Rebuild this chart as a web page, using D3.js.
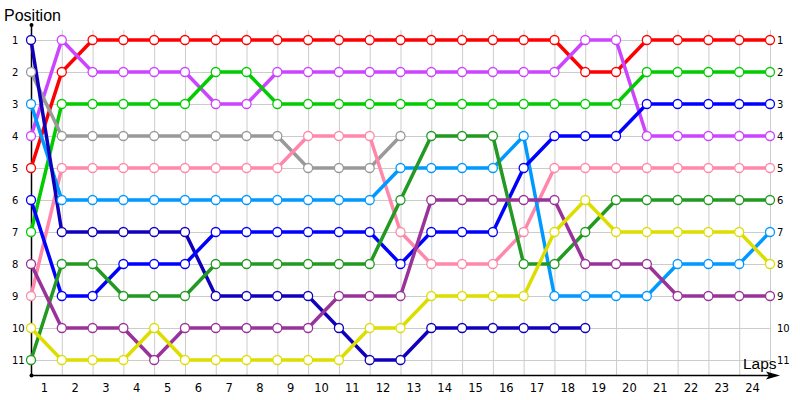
<!DOCTYPE html>
<html><head><meta charset="utf-8">
<script src="https://cdn.jsdelivr.net/npm/d3@7"></script>
<style>body{margin:0;background:#fff}svg{display:block}</style>
</head><body><svg id="c" width="800" height="400"></svg>
<script>
const laps = d3.range(0, 25);
const lapLabels = d3.range(1, 25).map(String);
const positions = d3.range(1, 12);
const seriesNames = ["red","violet","green","gray","pink","lightblue","navy","blue","darkgreen","purple","yellow"];
const seriesColors = ["#ff0000","#cc44ff","#00cc00","#999999","#ff88aa","#0099ff","#1100bb","#0000ff","#229922","#993399","#dddd00"];
const red       = [5,2,1,1,1,1,1,1,1,1,1,1,1,1,1,1,1,1,2,2,1,1,1,1,1];
const violet    = [4,1,2,2,2,2,3,3,2,2,2,2,2,2,2,2,2,2,1,1,4,4,4,4,4];
const green     = [7,3,3,3,3,3,2,2,3,3,3,3,3,3,3,3,3,3,3,3,2,2,2,2,2];
const gray      = [2,4,4,4,4,4,4,4,4,5,5,5,4];
const pink      = [9,5,5,5,5,5,5,5,5,4,4,4,7,8,8,8,7,5,5,5,5,5,5,5,5];
const lightblue = [3,6,6,6,6,6,6,6,6,6,6,6,5,5,5,5,4,9,9,9,9,8,8,8,7];
const navy      = [1,7,7,7,7,7,9,9,9,9,10,11,11,10,10,10,10,10,10];
const blue      = [6,9,9,8,8,8,7,7,7,7,7,7,8,7,7,7,5,4,4,4,3,3,3,3,3];
const darkgreen = [11,8,8,9,9,9,8,8,8,8,8,8,6,4,4,4,8,8,7,6,6,6,6,6,6];
const purple    = [8,10,10,10,11,10,10,10,10,10,9,9,9,6,6,6,6,6,8,8,8,9,9,9,9];
const yellow    = [10,11,11,11,10,11,11,11,11,11,11,10,10,9,9,9,9,7,6,7,7,7,7,7,8];
const seriesValues = [red,violet,green,gray,pink,lightblue,navy,blue,darkgreen,purple,yellow];

const svg = d3.select("#c");
const x = d3.scaleLinear().domain([0, 24]).range([31, 770]);
const y = d3.scaleLinear().domain([1, 11]).range([40, 360]);
const xb = d3.scaleBand().domain(lapLabels).range([31, 770]);

// grid
const g = svg.append("g");
g.selectAll("line.v").data(laps).join("line")
  .attr("x1", d => x(d)+0.5).attr("x2", d => x(d)+0.5)
  .attr("y1", 30).attr("y2", 375)
  .attr("stroke", "#cccccc").attr("stroke-width", 1);
g.selectAll("line.h").data(positions).join("line")
  .attr("x1", x(0)).attr("x2", x(24))
  .attr("y1", d => y(d)+0.5).attr("y2", d => y(d)+0.5)
  .attr("stroke", "#cccccc").attr("stroke-width", 1);

// axes
svg.append("line").attr("x1", 31.5).attr("x2", 31.5).attr("y1", 25).attr("y2", 375.5)
  .attr("stroke", "#000").attr("stroke-width", 1.5);
svg.append("line").attr("x1", 31).attr("x2", 772).attr("y1", 375.5).attr("y2", 375.5)
  .attr("stroke", "#000").attr("stroke-width", 1.5);
svg.append("path").attr("d", "M766,371.5 L780,375.5 L766,379.5 L769,375.5 Z").attr("fill", "#000");
svg.append("circle").attr("cx", 31.5).attr("cy", 25).attr("r", 2).attr("fill", "#000");
svg.append("circle").attr("cx", 31.5).attr("cy", 375.5).attr("r", 2).attr("fill", "#000");

// labels
svg.append("text").attr("x", 4).attr("y", 21).text("Position")
  .attr("font-family", "Liberation Sans, Arial, sans-serif").attr("font-size", 16).attr("fill", "#000");
svg.append("text").attr("x", 743).attr("y", 369).text("Laps")
  .attr("font-family", "Liberation Sans, Arial, sans-serif").attr("font-size", 15.5).attr("fill", "#000");

svg.append("g").selectAll("text").data(lapLabels).join("text")
  .attr("x", d => xb(d) + xb.bandwidth()/2 - 2).attr("y", 392)
  .attr("text-anchor", "middle")
  .attr("font-family", "DejaVu Sans, sans-serif").attr("font-size", 11.5).attr("fill", "#000")
  .text(d => d);

svg.append("g").selectAll("text").data(positions).join("text")
  .attr("x", 12).attr("y", d => y(d) + 4)
  .attr("font-family", "DejaVu Sans, sans-serif").attr("font-size", 10).attr("fill", "#000")
  .text(d => d);
svg.append("g").selectAll("text").data(positions).join("text")
  .attr("x", 777).attr("y", d => y(d) + 4)
  .attr("font-family", "DejaVu Sans, sans-serif").attr("font-size", 10).attr("fill", "#000")
  .text(d => d);

// series
const line = d3.line().x((d, i) => x(i)).y(d => y(d));
seriesValues.forEach((vals, si) => {
  const col = seriesColors[si];
  const sg = svg.append("g").attr("class", seriesNames[si]);
  sg.append("path").attr("d", line(vals)).attr("fill", "none")
    .attr("stroke", col).attr("stroke-width", 3.5).attr("stroke-linejoin", "round");
});
seriesValues.forEach((vals, si) => {
  const col = seriesColors[si];
  svg.append("g").selectAll("circle").data(vals).join("circle")
    .attr("cx", (d, i) => x(i)).attr("cy", d => y(d)).attr("r", 4.5)
    .attr("fill", "#fff").attr("stroke", col).attr("stroke-width", 1.3);
});
</script></body></html>
